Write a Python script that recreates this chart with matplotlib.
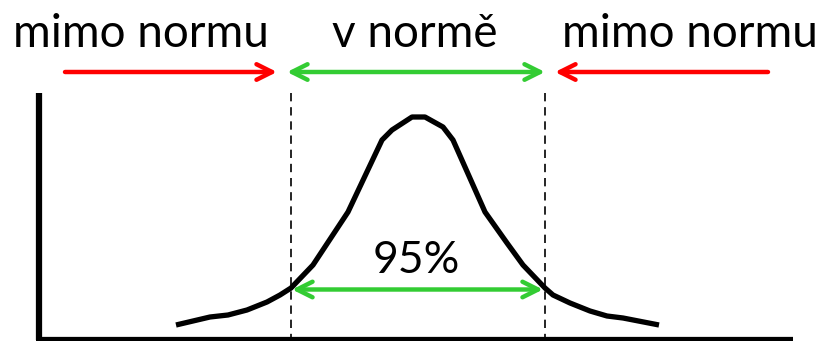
import numpy as np
import matplotlib.pyplot as plt
from matplotlib.patches import FancyArrowPatch

# bell curve (pixel coords, y down)
curve_x = [176, 210, 228, 247, 267, 280, 291, 313, 348, 382, 392, 412, 425,
           443, 453, 485, 507, 523, 545, 553, 570, 590, 607, 623, 659]
curve_y = [325, 317, 315, 310, 302, 295, 288, 265, 212, 140, 130, 117, 117,
           127, 140, 212, 243, 265, 288, 295, 303, 311, 316, 318, 325]

limits = [290.5, 545]
labels = ["mimo normu", "v normě", "mimo normu"]
label_x = [141, 415, 690]
pct_label = "95%"

red = "#ff0000"
green = "#33cc33"

fig = plt.figure(figsize=(8.21, 3.41), dpi=100)
ax = fig.add_axes([0, 0, 1, 1])
ax.set_xlim(0, 821)
ax.set_ylim(341, 0)
ax.axis("off")

# axes lines
ax.plot([38.5, 38.5], [93, 339.5], color="black", lw=4.5, solid_capstyle="butt")
ax.plot([36, 793], [339.5, 339.5], color="black", lw=4.5, solid_capstyle="butt")

# dashed limits
for x in limits:
    ax.plot([x, x], [93, 341], color="black", lw=1.2, ls=(0, (5, 3.5)))

ax.plot(curve_x, curve_y, color="black", lw=3.8, solid_joinstyle="round",
        solid_capstyle="butt")

def arrow(x0, x1, y, color, style):
    ax.add_patch(FancyArrowPatch((x0, y), (x1, y), arrowstyle=style,
                                 mutation_scale=28, color=color, lw=3.2,
                                 shrinkA=0, shrinkB=0, capstyle="round",
                                 joinstyle="round"))

arrow(65, 277, 72, red, "->")
arrow(287, 545, 72, green, "<->")
arrow(768, 555, 72, red, "->")
arrow(292, 543, 289.5, green, "<->")

for t, x in zip(labels, label_x):
    ax.text(x, 47, t, ha="center", va="baseline", fontsize=33,
            family="Lato", weight="normal", color="black")
ax.text(416, 273, pct_label, ha="center", va="baseline", fontsize=32,
        family="Lato", weight="normal", color="black")

fig.savefig("out.png", dpi=100)
